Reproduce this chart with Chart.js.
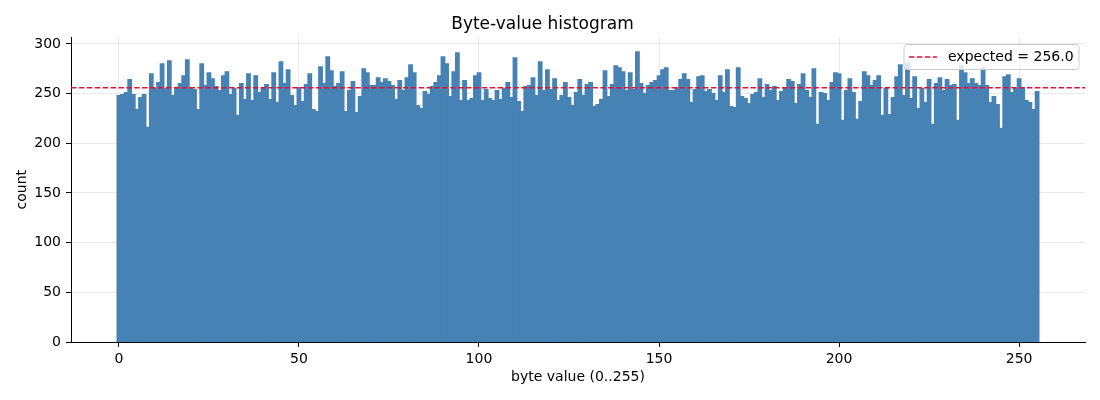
<!DOCTYPE html>
<html>
<head>
<meta charset="utf-8">
<script src="https://cdn.jsdelivr.net/npm/chart.js@4.4.1/dist/chart.umd.min.js"></script>
<style>
  html, body { margin: 0; padding: 0; background: #fff; }
  #wrap { width: 1100px; height: 400px; }
</style>
</head>
<body>
<div id="wrap"><canvas id="histo"></canvas></div>
<script>
// counts per byte value (32 per row)
const counts = [
  248, 249, 251, 264, 249, 234, 246, 249, 216, 270, 255, 261, 280, 255, 283, 248,
  255, 260, 268, 284, 256, 254, 234, 280, 258, 271, 265, 257, 253, 268, 272, 249,
  255, 228, 260, 244, 270, 243, 268, 251, 256, 259, 244, 271, 241, 282, 260, 274,
  248, 238, 256, 242, 259, 270, 234, 232, 277, 260, 287, 273, 257, 260, 272, 232,
  253, 262, 231, 247, 275, 271, 258, 258, 266, 261, 265, 262, 258, 244, 263, 253,
  266, 279, 271, 238, 235, 252, 249, 257, 261, 268, 287, 280, 247, 272, 291, 243,
  263, 243, 245, 268, 271, 243, 254, 245, 243, 253, 244, 255, 261, 246, 286, 242,
  232, 257, 258, 266, 248, 282, 253, 274, 254, 265, 243, 248, 261, 246, 238, 251,
  264, 248, 259, 261, 237, 239, 244, 273, 247, 259, 278, 276, 272, 253, 271, 254,
  292, 260, 250, 258, 261, 263, 268, 274, 276, 253, 253, 256, 264, 270, 264, 241,
  254, 267, 268, 252, 254, 250, 243, 268, 251, 274, 237, 236, 276, 247, 245, 240,
  249, 251, 265, 246, 259, 253, 257, 243, 252, 256, 264, 262, 240, 259, 270, 253,
  246, 275, 219, 251, 250, 243, 261, 271, 270, 223, 253, 265, 251, 224, 242, 272,
  268, 258, 263, 268, 228, 255, 229, 246, 267, 279, 248, 281, 245, 267, 235, 255,
  241, 264, 219, 260, 266, 253, 264, 258, 259, 223, 278, 271, 260, 265, 260, 258,
  276, 258, 241, 247, 239, 215, 267, 269, 251, 255, 265, 256, 243, 241, 234, 252
];
const byteValues = counts.map((c, i) => i);
const expected = 256.0;
const xTicks = [0, 50, 100, 150, 200, 250];
const yTicks = [0, 50, 100, 150, 200, 250, 300];

// axis limits like matplotlib's 5% margins
const xMin = -0.5 - 12.8;
const xMax = 255.5 + 12.8;
const yMax = Math.max(...counts) * 1.05;

const FONT = "'DejaVu Sans', sans-serif";
const DASH = [5.5, 2.4];

// legend box drawn inside the plot, top right
const legendBox = {
  id: "legendBox",
  afterDraw(chart) {
    const ctx = chart.ctx;
    const x0 = 904, y0 = 44.5, w = 175, h = 25, r = 3;
    ctx.save();
    ctx.beginPath();
    ctx.roundRect(x0, y0, w, h, r);
    ctx.fillStyle = "rgba(255,255,255,0.8)";
    ctx.fill();
    ctx.strokeStyle = "#cccccc";
    ctx.lineWidth = 1;
    ctx.stroke();
    ctx.beginPath();
    ctx.setLineDash(DASH);
    ctx.strokeStyle = "crimson";
    ctx.lineWidth = 1.5;
    ctx.moveTo(909, y0 + h / 2);
    ctx.lineTo(937, y0 + h / 2);
    ctx.stroke();
    ctx.setLineDash([]);
    ctx.fillStyle = "#000";
    ctx.font = "14px " + FONT;
    ctx.textBaseline = "middle";
    ctx.fillText("expected = " + expected.toFixed(1), 948, y0 + h / 2 + 0.5);
    ctx.restore();
  }
};

const data = {
  datasets: [
    {
      type: "line",
      label: "expected = " + expected.toFixed(1),
      data: [{ x: xMin, y: expected }, { x: xMax, y: expected }],
      borderColor: "crimson",
      borderWidth: 1.5,
      borderDash: DASH,
      pointRadius: 0,
      order: 0
    },
    {
      type: "bar",
      label: "counts",
      data: byteValues.map((b, i) => ({ x: b, y: counts[i] })),
      backgroundColor: "#4682b4",
      borderWidth: 0,
      inflateAmount: 0.6,
      barPercentage: 1.0,
      categoryPercentage: 1.0,
      order: 1
    }
  ]
};

const config = {
  type: "bar",
  data,
  options: {
    responsive: false,
    animation: false,
    layout: { padding: { left: 0, right: 15, top: 0, bottom: 0 } },
    plugins: {
      legend: { display: false },
      tooltip: { enabled: false },
      title: {
        display: true,
        text: "Byte-value histogram",
        color: "#000",
        font: { family: FONT, size: 17, weight: "normal" },
        padding: { top: 14, bottom: 3 }
      }
    },
    scales: {
      x: {
        type: "linear",
        min: xMin,
        max: xMax,
        offset: false,
        z: 1,
        afterFit: (s) => { s.height = 58; },
        afterBuildTicks: (s) => { s.ticks = xTicks.map(v => ({ value: v })); },
        ticks: { color: "#000", font: { family: FONT, size: 14 }, padding: 4 },
        grid: { color: "rgba(176,176,176,0.35)", lineWidth: 0.8, offset: false,
                tickColor: "#000", tickLength: 5, tickWidth: 1 },
        border: { color: "#000", width: 1 },
        title: { display: true, text: "byte value (0..255)", color: "#000",
                 font: { family: FONT, size: 14 }, padding: { top: 0, bottom: 14.6 } }
      },
      y: {
        min: 0,
        max: yMax,
        z: 1,
        afterFit: (s) => { s.width = 71; },
        afterBuildTicks: (s) => { s.ticks = yTicks.map(v => ({ value: v })); },
        ticks: { color: "#000", font: { family: FONT, size: 14 }, padding: 5 },
        grid: { color: "rgba(176,176,176,0.35)", lineWidth: 0.8,
                tickColor: "#000", tickLength: 5, tickWidth: 1 },
        border: { color: "#000", width: 1 },
        title: { display: true, text: "count", color: "#000",
                 font: { family: FONT, size: 14 }, padding: { top: 13.6, bottom: 0 } }
      }
    }
  },
  plugins: [legendBox]
};

const canvas = document.getElementById("histo");
canvas.width = 1100;
canvas.height = 400;
new Chart(canvas, config);
</script>
</body>
</html>
